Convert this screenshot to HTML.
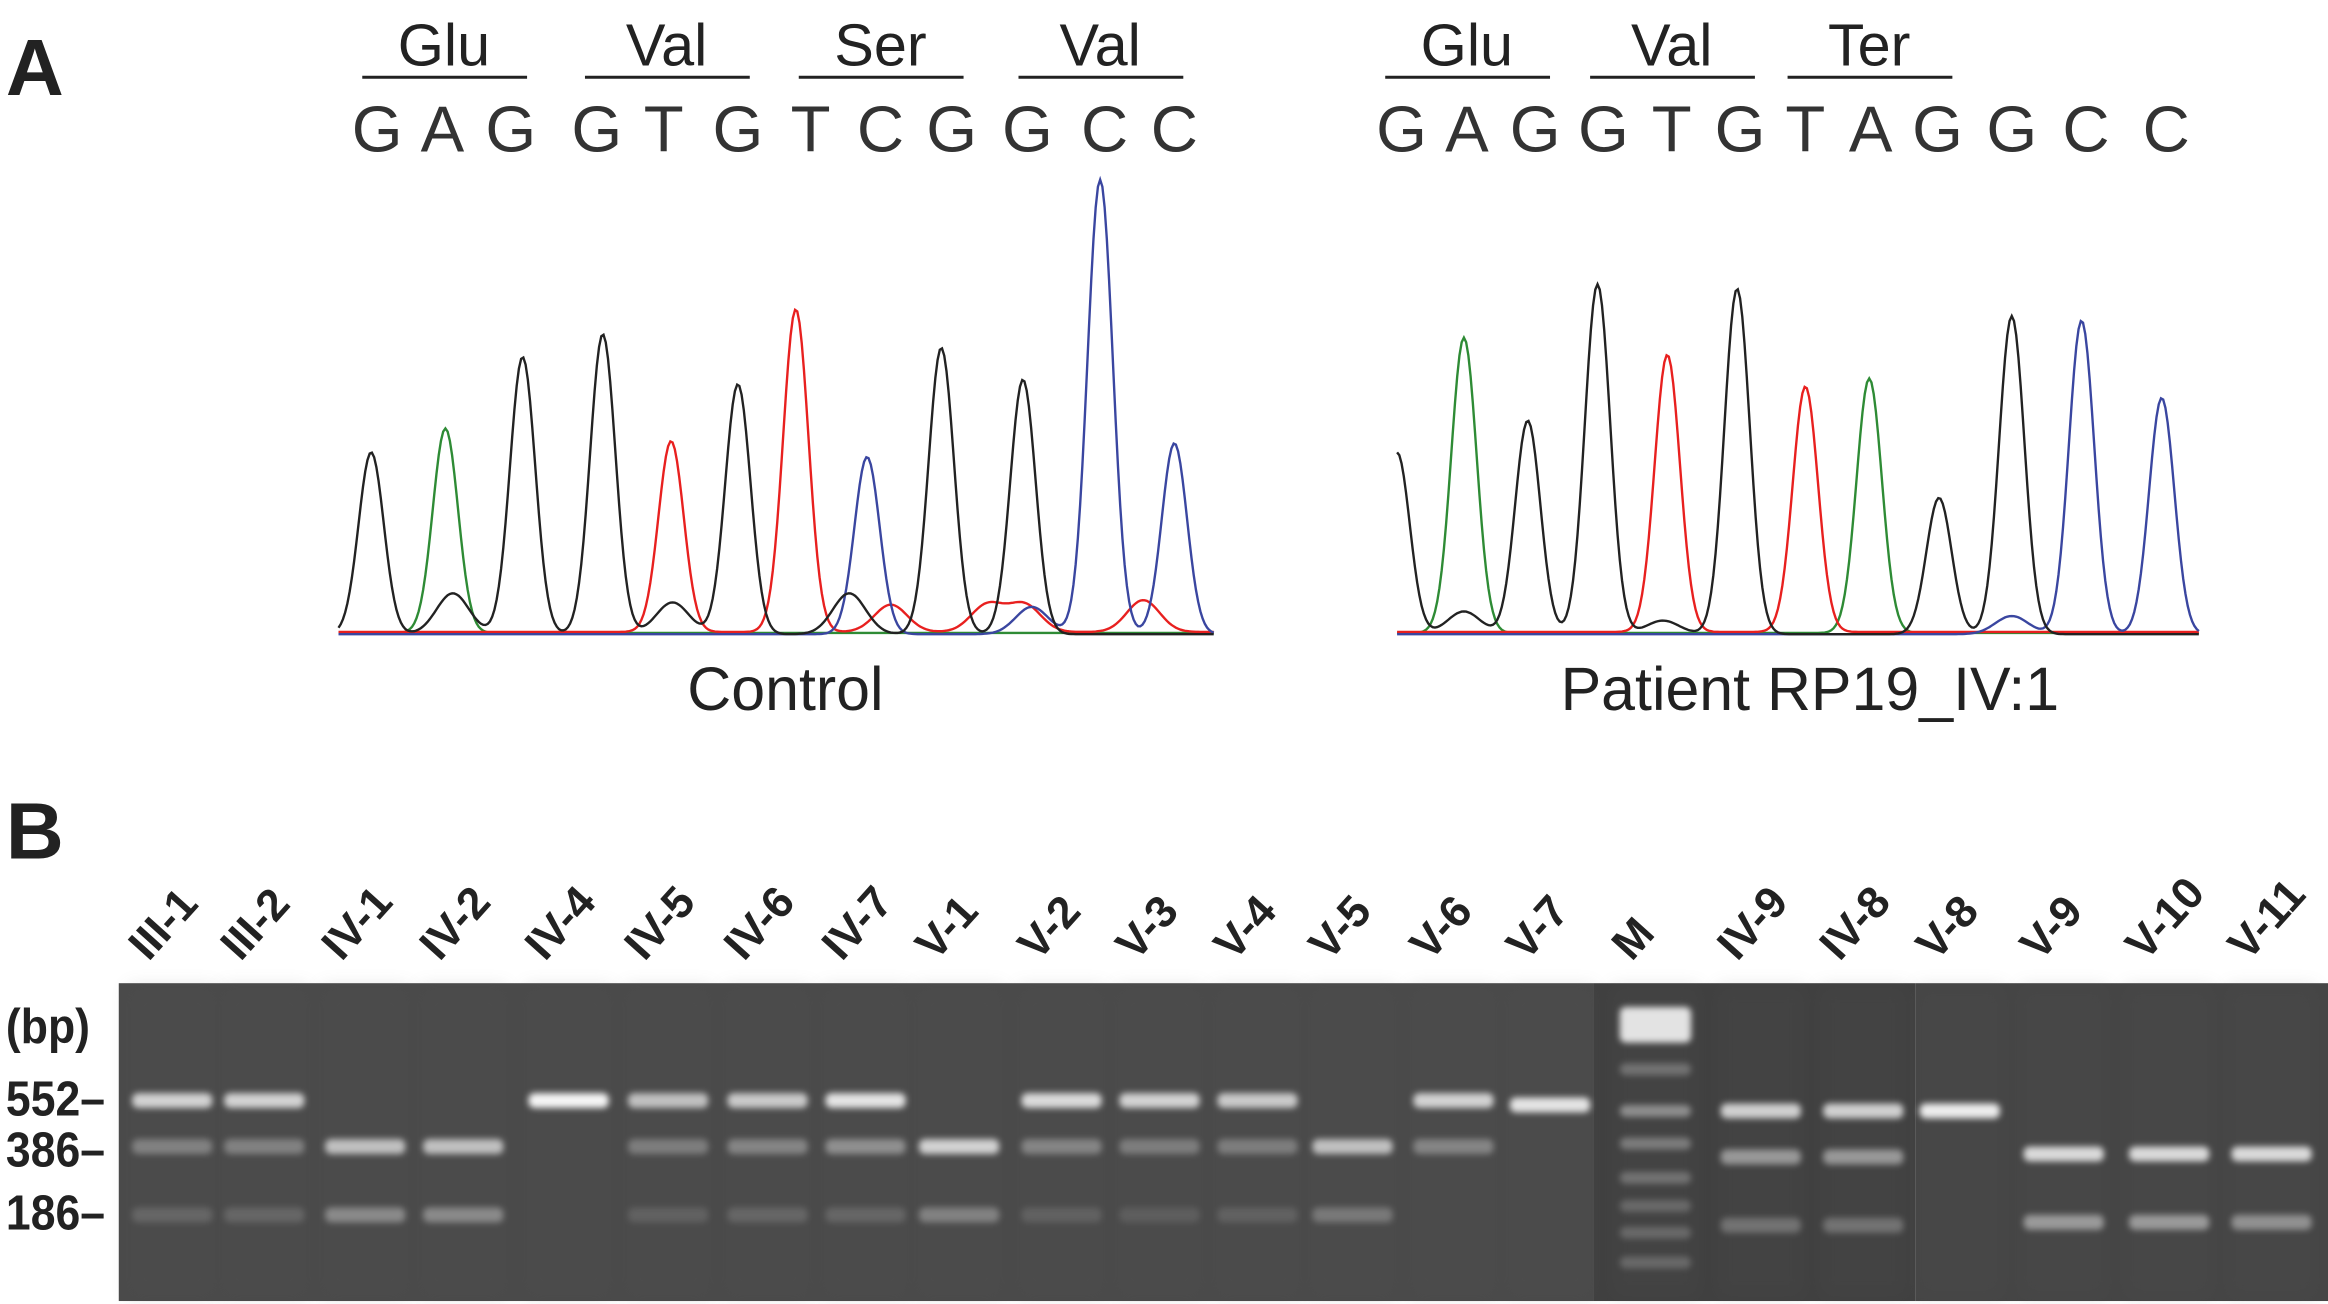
<!DOCTYPE html>
<html><head><meta charset="utf-8"><style>
html,body{margin:0;padding:0;background:#fff}
svg{display:block}
text{font-family:"Liberation Sans",sans-serif}
</style></head><body>
<svg width="2328" height="1304" viewBox="0 0 1568 878" preserveAspectRatio="none" xmlns="http://www.w3.org/2000/svg">
<defs>
<filter id="blur" x="-50%" y="-100%" width="200%" height="300%"><feGaussianBlur stdDeviation="2.2"/></filter>
<filter id="blur2" x="-20%" y="-20%" width="140%" height="140%"><feGaussianBlur stdDeviation="6"/></filter>
</defs>
<text x="4" y="64" font-size="54" font-weight="bold" fill="#222">A</text>
<text x="4" y="578" font-size="54" font-weight="bold" fill="#222">B</text>
<g id="seq"></g>
<g id="chrom"></g>
<text x="529" y="478" font-size="41" text-anchor="middle" fill="#222">Control</text>
<text x="1219" y="478" font-size="41" text-anchor="middle" fill="#222">Patient RP19_IV:1</text>
<g id="gel"></g>
<g font-weight="bold" font-size="30" fill="#222">
<text x="4" y="702" transform="translate(0,-70) scale(1,1.1)">(bp)</text>
<text x="4" y="751" transform="translate(0,-75) scale(1,1.1)">552–</text>
<text x="4" y="785" transform="translate(0,-78) scale(1,1.1)">386–</text>
<text x="4" y="828" transform="translate(0,-83) scale(1,1.1)">186–</text>
</g>
</svg>
<script>
const NS='http://www.w3.org/2000/svg';
function mk(tag,attrs,parent){const e=document.createElementNS(NS,tag);for(const k in attrs)e.setAttribute(k,attrs[k]);parent.appendChild(e);return e;}
// ---- sequence data ----
const ctrlCodons=['Glu','Val','Ser','Val'];
const ctrlBases=['G','A','G','G','T','G','T','C','G','G','C','C'];
const patCodons=['Glu','Val','Ter'];
const patBases=['G','A','G','G','T','G','T','A','G','G','C','C'];
// ---- chromatogram data ----
const ctrlPeakH=[0.40,0.45,0.61,0.66,0.42,0.55,0.71,0.39,0.63,0.56,1.00,0.42];
const ctrlPeakC=['k','g','k','k','r','k','r','b','k','k','b','b'];
const ctrlPeakPos=[250,300,352,406,452,497,536,584,634,689,741,791];
const ctrlMinorPos=[305,453,572,600,665,695,770,690];
const ctrlMinorH=[0.09,0.07,0.09,0.06,0.06,0.06,0.07,0.06];
const ctrlMinorC=['k','k','k','r','r','b','r','r'];
const patPeakH=[0.40,0.65,0.47,0.77,0.61,0.76,0.54,0.56,0.30,0.70,0.69,0.52];
const patPeakC=['k','g','k','k','r','k','r','g','k','k','b','b'];
const patPeakPos=[941,986,1029,1076,1123,1170,1216,1259,1306,1355,1402,1456];
const patMinorPos=[986,1120,1355];
const patMinorH=[0.05,0.03,0.04];
const patMinorC=['k','k','b'];
const colors={k:'#222',g:'#2e8b35',r:'#e8201f',b:'#3a46a0'};
const seq=document.getElementById('seq');
function drawSeq(codons,lineStarts,bases,baseX){
 codons.forEach((c,i)=>{const x0=lineStarts[i];
  let t=mk('text',{x:x0+55,y:44,'font-size':40,'text-anchor':'middle',fill:'#222'},seq);t.textContent=c;
  
  
  let l=mk('line',{x1:x0,x2:x0+111,y1:52,y2:52,stroke:'#222','stroke-width':2},seq);
  
  
 });
 bases.forEach((b,i)=>{let t=mk('text',{x:baseX[i],y:102,'font-size':44,'text-anchor':'middle',fill:'#333'},seq);t.textContent=b;
  
  });
}
drawSeq(ctrlCodons,[244,394,538,686],ctrlBases,[254,298,344,402,447,497,546,593,641,692,744,791]);
drawSeq(patCodons,[933,1071,1204],patBases,[944,988,1034,1080,1126,1172,1216,1260,1305,1355,1405,1459]);
const chrom=document.getElementById('chrom');
const baseY=427, topY=121, amp=baseY-topY;
function yScale(h){return baseY-h*amp;}
function drawChrom(x0,x1,pos,H,C,mpos,mH,mC,name){
 ['g','r','b','k'].forEach(col=>{
  let d='';
  for(let x=x0;x<=x1;x+=1.5){
   let v=0;
   pos.forEach((p,i)=>{if(C[i]===col){const s=8.5;v+=H[i]*Math.exp(-((x-p)**2)/(2*s*s));}});
   mpos.forEach((p,i)=>{if(mC[i]===col){const s=11;v+=mH[i]*Math.exp(-((x-p)**2)/(2*s*s));}});
   const y=yScale(v)-(col==='r'?1.5:col==='g'?0.8:0);
   d+=(d?'L':'M')+x.toFixed(1)+' '+y.toFixed(1);
  }
  const p=mk('path',{d:d,fill:'none',stroke:colors[col],'stroke-width':1.6},chrom);
  
  
 });
}
drawChrom(228,818,ctrlPeakPos,ctrlPeakH,ctrlPeakC,ctrlMinorPos,ctrlMinorH,ctrlMinorC,'control');
drawChrom(941,1482,patPeakPos,patPeakH,patPeakC,patMinorPos,patMinorH,patMinorC,'patient');
// ---- gel data ----
const lanes=['III-1','III-2','IV-1','IV-2','IV-4','IV-5','IV-6','IV-7','V-1','V-2','V-3','V-4','V-5','V-6','V-7','M','IV-9','IV-8','V-8','V-9','V-10','V-11'];
const laneX=[116,178,246,312,383,450,517,583,646,715,781,847,911,979,1044,1115,1186,1255,1320,1390,1461,1530];
const i552=[0.75,0.75,0,0,0.95,0.65,0.7,0.85,0,0.8,0.75,0.7,0,0.75,0.85,0,0.75,0.75,0.9,0,0,0];
const i386=[0.3,0.3,0.65,0.65,0,0.28,0.32,0.38,0.75,0.32,0.28,0.28,0.65,0.32,0,0,0.45,0.45,0,0.8,0.8,0.8];
const i186=[0.15,0.15,0.35,0.35,0,0.12,0.15,0.15,0.3,0.12,0.1,0.12,0.25,0,0,0,0.25,0.25,0,0.45,0.45,0.4];
const yOffset=[0,0,0,0,0,0,0,0,0,0,0,0,0,0,3,0,7,7,7,5,5,5];
const ladderY=[690,720,748,770,793,812,830,850];
const ladderI=[0.85,0.25,0.4,0.3,0.25,0.2,0.2,0.2];
const gel=document.getElementById('gel');
[[80,1073,'#4a4a4a'],[1073,1290,'#404040'],[1290,1568,'#454545']].forEach(([a,b,c],i)=>{
 const r=mk('rect',{x:a,y:662,width:b-a,height:214,fill:c},gel);
 
 
});
function bandY(size){return size===552?741:size===386?772:818;}
lanes.forEach((ln,i)=>{
 const x=laneX[i];
 const lr=mk('rect',{x:x-30,y:664,width:60,height:210,fill:'#555',opacity:0.15,filter:'url(#blur2)'},gel);
 
 
 [[552,i552],[386,i386],[186,i186]].forEach(([s,arr])=>{
  const v=arr[i]; if(!v) return;
  const b=mk('rect',{x:x-27,y:bandY(s)+yOffset[i]-5,width:54,height:10,rx:4,fill:'#fff',opacity:v,filter:'url(#blur)'},gel);
  
  
 });
 if(ln==='M'){
  ladderY.forEach((y,k)=>{
   const b=mk('rect',{x:x-24,y:y-(k===0?12:4),width:48,height:k===0?24:8,rx:4,fill:'#fff',opacity:ladderI[k],filter:'url(#blur)'},gel);
   
   
  });
 }
 const t=mk('text',{x:x-16,y:648,'font-size':30,'font-weight':'bold',fill:'#222',transform:'rotate(-48 '+(x-16)+' 648)'},gel);
 t.textContent=ln;
 
 
});
</script>
</body></html>
